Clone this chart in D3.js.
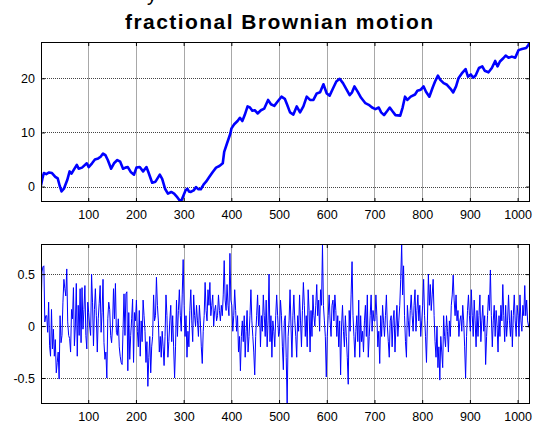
<!DOCTYPE html>
<html>
<head>
<meta charset="utf-8">
<script src="https://cdn.jsdelivr.net/npm/d3@7"></script>
<style>
body { margin: 0; background: #fff; }
text { font-family: Arial, "Liberation Sans", sans-serif; }
</style>
</head>
<body>
<div id="chart"></div>
<script>

// fBm path (top panel)
var fbmX = [1, 4, 7, 12, 18, 24, 31, 36, 40, 44, 49, 56, 61, 65, 69, 76, 80, 87, 97, 101,
  108, 114, 121, 126, 131, 136, 141, 148, 154, 161, 167, 173, 178, 183, 189, 196, 201, 208, 215, 222,
  226, 234, 241, 250, 255, 261, 267, 274, 280, 287, 294, 299, 304, 308, 311, 315, 321, 326, 331, 336,
  342, 347, 354, 361, 368, 375, 382, 385, 391, 398, 400, 406, 413, 418, 423, 428, 434, 439, 444, 449,
  455, 462, 469, 477, 483, 490, 497, 505, 512, 517, 523, 530, 537, 544, 551, 558, 565, 572, 579, 586,
  593, 600, 606, 613, 620, 627, 634, 641, 648, 653, 658, 665, 672, 681, 688, 695, 702, 709, 714, 720,
  727, 732, 737, 744, 754, 759, 764, 769, 776, 785, 790, 797, 803, 808, 815, 822, 827, 833, 838, 845,
  852, 859, 865, 871, 876, 883, 891, 896, 902, 907, 912, 919, 926, 931, 939, 946, 953, 958, 963, 970,
  975, 981, 988, 995, 1002, 1009, 1018, 1023, 1026];
var fbmY = [0.2, 1.5, 2.5, 2.3, 2.6, 2.5, 1.8, 1.5, 0.2, -0.9, -0.4, 1.2, 2.8, 2.4, 3.0, 4.0, 3.3, 3.5, 4.3, 3.6,
  4.3, 5.0, 5.2, 5.5, 6.1, 5.8, 4.9, 3.3, 4.3, 4.9, 4.6, 3.3, 3.5, 3.6, 2.7, 2.2, 3.5, 3.6, 2.8, 3.6,
  2.7, 0.7, 0.9, 2.2, 1.4, -0.4, -1.3, -1.0, -1.3, -2.0, -2.85, -1.8, -0.7, -0.4, -0.9, -1.0, -0.7, -0.1, -0.5, -0.5,
  0.4, 0.9, 1.8, 2.7, 3.5, 3.8, 4.3, 6.4, 8.0, 9.8, 10.7, 11.5, 12.1, 12.7, 12.1, 13.2, 14.8, 14.6, 14.0, 14.1,
  13.5, 14.1, 14.4, 16.0, 15.2, 14.9, 15.7, 16.6, 16.2, 15.1, 13.7, 13.3, 14.8, 13.7, 14.8, 16.6, 16.0, 16.0, 17.2, 17.4,
  18.9, 17.2, 16.8, 18.1, 19.4, 19.9, 19.1, 18.0, 16.9, 17.4, 18.5, 17.5, 16.4, 15.4, 15.1, 14.6, 14.3, 14.6, 13.7, 13.2,
  14.0, 14.6, 14.0, 13.2, 13.1, 14.6, 16.6, 16.0, 16.6, 17.0, 17.7, 17.9, 18.5, 17.5, 16.6, 18.3, 19.4, 20.5, 19.7, 19.1,
  18.8, 18.1, 17.4, 18.5, 20.0, 20.9, 21.7, 20.3, 20.7, 20.1, 20.5, 21.9, 22.2, 21.4, 21.1, 21.9, 23.2, 22.2, 23.1, 23.7,
  24.2, 23.8, 24.0, 23.8, 25.2, 25.4, 25.6, 26.2, 26.7];

// increments (bottom panel), one value every 2 samples starting at sample 1
var noiseStart = 1;
var noiseStep = 2;
var noise = [
  // 1 - 199
  0.1, 0.52, 0.57, 0.58, 0.04, 0.1, 0.1, -0.06, 0.23, -0.19,
  -0.29, 0.16, -0.22, -0.03, -0.29, -0.13, -0.45, -0.35, -0.25, -0.51,
  0.1, -0.16, -0.09, 0.23, 0.45, 0.36, 0.29, 0.55, 0.04, -0.09,
  -0.12, -0.25, 0.16, 0.07, 0.37, -0.19, 0, 0.41, -0.29, 0.2,
  -0.09, 0.36, -0.16, 0.37, -0.03, 0.16, 0.39, -0.09, -0.22, 0.23,
  0.13, 0, -0.09, 0.5, 0.23, -0.19, 0.16, 0.36, 0.1, -0.25,
  0.07, 0.22, 0.39, -0.06, 0.13, 0.45, -0.16, -0.32, -0.25, -0.5,
  0.07, 0.23, 0.16, -0.09, -0.16, 0, 0.36, 0.07, 0.41, -0.06,
  -0.09, 0.07, -0.2, -0.29, -0.35, -0.37, -0.03, 0.31, -0.09, 0.31,
  0.33, -0.43, 0.13, -0.32, -0.09, 0.07, 0.26, -0.35, 0.13, 0.05,
  // 201 - 299
  0.25, -0.05, -0.2, 0.15, -0.29, 0.05, -0.15, 0.25, 0.1, -0.05,
  -0.35, -0.15, -0.58, -0.3, -0.1, -0.45, -0.2, -0.1, 0.3, 0.05,
  0.1, 0.47, 0.2, 0.05, -0.25, -0.1, -0.3, -0.05, -0.2, -0.38,
  -0.1, 0.3, 0.1, -0.3, -0.15, 0.05, 0.2, -0.15, 0.1, -0.2,
  -0.5, -0.2, 0.25, -0.1, 0.15, 0.35, 0.1, -0.05, 0.3, 0.64,
  // 301 - 399
  0.2, -0.1, 0.1, -0.3, -0.05, -0.2, 0.15, 0.35, 0.05, -0.15,
  0.3, 0.1, 0, 0.2, 0.05, -0.1, 0.2, 0.05, -0.2, -0.36,
  -0.05, 0.1, 0.42, 0.15, 0.05, 0.35, 0.2, 0.42, 0.1, 0.2,
  0.3, 0, 0.15, 0.2, 0.05, 0.1, 0.3, 0.15, 0.05, 0.2,
  0.1, 0.3, 0.63, 0.25, 0.15, 0.4, 0.2, 0.1, 0.7, 0.25,
  // 401 - 499
  0.2, -0.05, 0.1, 0.35, 0.15, -0.05, 0.1, -0.25, -0.1, -0.43,
  -0.1, 0.05, -0.15, 0.1, -0.3, -0.05, 0.15, -0.25, -0.1, 0.1,
  0.35, 0.05, -0.1, -0.25, -0.47, -0.1, 0.1, 0.3, 0, 0.2,
  -0.2, 0.1, -0.05, 0.3, 0.1, -0.1, 0.25, -0.2, 0.05, 0.5,
  -0.15, 0.1, -0.3, 0.05, -0.05, -0.2, 0.1, 0.3, 0.1, -0.1,
  // 501 - 599
  -0.05, 0.25, 0.1, -0.2, -0.42, 0.05, 0.1, -0.3, -0.75, -0.1,
  0.05, 0.35, 0, -0.3, 0.1, 0.3, 0.05, -0.1, -0.3, 0.1,
  -0.05, 0.3, 0.05, -0.2, 0.15, 0.42, 0.2, -0.1, 0.1, -0.2,
  0.35, 0.15, -0.25, 0.15, -0.1, 0.3, 0.1, 0, 0.2, 0.4,
  0.1, 0.25, -0.05, 0.35, 0.2, 0.78, 0.2, 0.05, -0.1, -0.49,
  // 601 - 699
  -0.1, 0.1, 0.3, 0.05, -0.1, 0.2, 0.25, 0.05, 0.3, 0.15,
  -0.1, 0.1, -0.2, 0.05, -0.47, 0, 0.2, -0.05, -0.2, 0.1,
  -0.1, -0.3, -0.56, 0.15, -0.05, 0.3, 0.62, 0.1, -0.1, -0.3,
  -0.05, 0.1, -0.15, 0.25, -0.3, 0.1, -0.15, -0.05, -0.25, 0.05,
  0.2, -0.1, 0.3, -0.3, -0.1, 0.1, 0.3, -0.05, 0.15, 0.05,
  // 701 - 799
  0.05, 0.3, 0.1, -0.2, -0.05, -0.36, 0.1, -0.1, 0.2, 0.05,
  -0.1, 0.1, 0.3, 0, -0.15, -0.3, 0.05, 0.1, -0.2, 0.05,
  0.15, -0.25, 0, 0.2, -0.1, 0.05, 0.2, 0.45, 0.79, 0.3,
  0.58, 0.1, -0.15, -0.3, 0.2, 0.05, -0.1, 0.15, 0.3, 0.1,
  -0.05, 0.2, 0.35, -0.05, 0.15, 0.3, 0.05, 0.2, -0.1, 0.05,
  // 801 - 899
  0.2, 0.45, 0.1, -0.1, -0.35, 0.05, 0.5, 0.2, 0.4, 0.15,
  0.3, 0.45, 0.1, -0.15, -0.3, 0, -0.4, -0.2, -0.52, -0.1,
  -0.25, -0.4, 0.1, -0.1, -0.2, 0.1, -0.05, -0.25, 0.05, -0.1,
  0.2, 0.3, 0.49, 0.25, 0.1, 0.3, 0.05, 0.15, -0.1, 0.05,
  0.1, -0.05, 0.2, 0.05, -0.2, -0.5, -0.1, 0.15, 0.3, 0.1,
  // 901 - 999
  -0.05, 0.35, 0.1, -0.1, 0.25, 0.05, -0.2, 0.15, -0.1, 0.1,
  0.3, -0.15, 0.05, 0.2, -0.05, 0.1, -0.37, -0.1, 0.1, 0.3,
  0.15, 0.54, 0.1, -0.2, 0.05, 0.2, -0.1, 0.15, 0, -0.25,
  0.1, -0.1, 0.2, 0.05, 0.4, 0.1, -0.15, 0.2, -0.1, 0.05,
  0.3, 0.05, -0.1, 0.15, -0.2, 0.1, 0.3, 0.05, -0.1, 0.2,
  // 1001 - 1025
  0.1, -0.1, 0.3, 0.05, -0.05, 0.2, 0.1, 0.39, 0.1, 0.25,
  0.05, 0, -0.02
];

var xTicks = [100, 200, 300, 400, 500, 600, 700, 800, 900, 1000];
var fbmTicks = [0, 10, 20];
var noiseTicks = [-0.5, 0, 0.5];

var titleText = "fractional Brownian motion";

// Define SVG area and the two axes boxes
var svgWidth = 536;
var svgHeight = 423;
var plotLeft = 41;
var plotRight = 530;
var topPanel = { top: 42, bottom: 202 };
var bottomPanel = { top: 244, bottom: 404 };

var svg = d3.select("#chart")
  .append("svg")
  .attr("width", svgWidth)
  .attr("height", svgHeight);

svg.append("rect")
  .attr("width", svgWidth)
  .attr("height", svgHeight)
  .attr("fill", "#fff");

var xScale = d3.scaleLinear()
  .domain([1, 1026])
  .range([plotLeft, plotRight]);

function drawPanel(name, panel, xVals, yVals, yTicks, lineWidth) {
  var yScale = d3.scaleLinear()
    .domain(d3.extent(yVals))
    .range([panel.bottom, panel.top]);

  var g = svg.append("g").attr("class", name);

  svg.append("clipPath")
    .attr("id", "clip-" + name)
    .append("rect")
    .attr("x", plotLeft)
    .attr("y", panel.top)
    .attr("width", plotRight - plotLeft)
    .attr("height", panel.bottom - panel.top);

  // grid, behind the data
  g.selectAll(".vgrid")
    .data(xTicks)
    .enter()
    .append("line")
    .attr("x1", d => Math.round(xScale(d)) + 0.5)
    .attr("x2", d => Math.round(xScale(d)) + 0.5)
    .attr("y1", panel.top)
    .attr("y2", panel.bottom)
    .attr("stroke", "#a8a8a8");

  g.selectAll(".hgrid")
    .data(yTicks)
    .enter()
    .append("line")
    .attr("x1", plotLeft)
    .attr("x2", plotRight)
    .attr("y1", d => Math.round(yScale(d)) + 0.5)
    .attr("y2", d => Math.round(yScale(d)) + 0.5)
    .attr("stroke", "#444")
    .attr("stroke-dasharray", "1,1");

  var line = d3.line()
    .x((d, i) => xScale(xVals[i]))
    .y(d => yScale(d));

  g.append("path")
    .datum(yVals)
    .attr("clip-path", "url(#clip-" + name + ")")
    .attr("d", line)
    .attr("fill", "none")
    .attr("stroke", "#0000ff")
    .attr("stroke-width", lineWidth)
    .attr("stroke-linejoin", "round");

  // ticks point inwards on all four sides
  var bottomAxis = d3.axisBottom(xScale).tickValues(xTicks)
    .tickSizeInner(-4).tickSizeOuter(0).tickPadding(8.6).tickFormat(d => String(d));
  var topAxis = d3.axisTop(xScale).tickValues(xTicks)
    .tickSizeInner(-4).tickSizeOuter(0).tickFormat("");
  var leftAxis = d3.axisLeft(yScale).tickValues(yTicks)
    .tickSizeInner(-4).tickSizeOuter(0).tickPadding(6).tickFormat(d => String(d));
  var rightAxis = d3.axisRight(yScale).tickValues(yTicks)
    .tickSizeInner(-4).tickSizeOuter(0).tickFormat("");

  g.append("g").attr("transform", `translate(0, ${panel.bottom})`).call(bottomAxis);
  g.append("g").attr("transform", `translate(0, ${panel.top})`).call(topAxis);
  g.append("g").attr("transform", `translate(${plotLeft}, 0)`).call(leftAxis);
  g.append("g").attr("transform", `translate(${plotRight}, 0)`).call(rightAxis);

  g.selectAll(".domain").remove();
  g.selectAll(".tick text")
    .attr("font-size", 12.5)
    .attr("font-family", "Arial, 'Liberation Sans', sans-serif")
    .attr("fill", "#000");

  g.append("rect")
    .attr("x", plotLeft + 0.5)
    .attr("y", panel.top + 0.5)
    .attr("width", plotRight - plotLeft - 1)
    .attr("height", panel.bottom - panel.top - 1)
    .attr("fill", "none")
    .attr("stroke", "#000");
}

var noiseX = noise.map((d, i) => noiseStart + i * noiseStep);

drawPanel("fbm", topPanel, fbmX, fbmY, fbmTicks, 2.6);
drawPanel("noise", bottomPanel, noiseX, noise, noiseTicks, 1);

// leftover line above the title, only its tail shows in the picture
svg.append("text")
  .attr("x", 147)
  .attr("y", 0.5)
  .attr("font-size", 20)
  .text("y");

svg.append("text")
  .attr("x", 125)
  .attr("y", 28.5)
  .attr("font-size", 21)
  .attr("font-weight", "bold")
  .attr("textLength", 308)
  .attr("lengthAdjust", "spacing")
  .text(titleText);

</script>
</body>
</html>
